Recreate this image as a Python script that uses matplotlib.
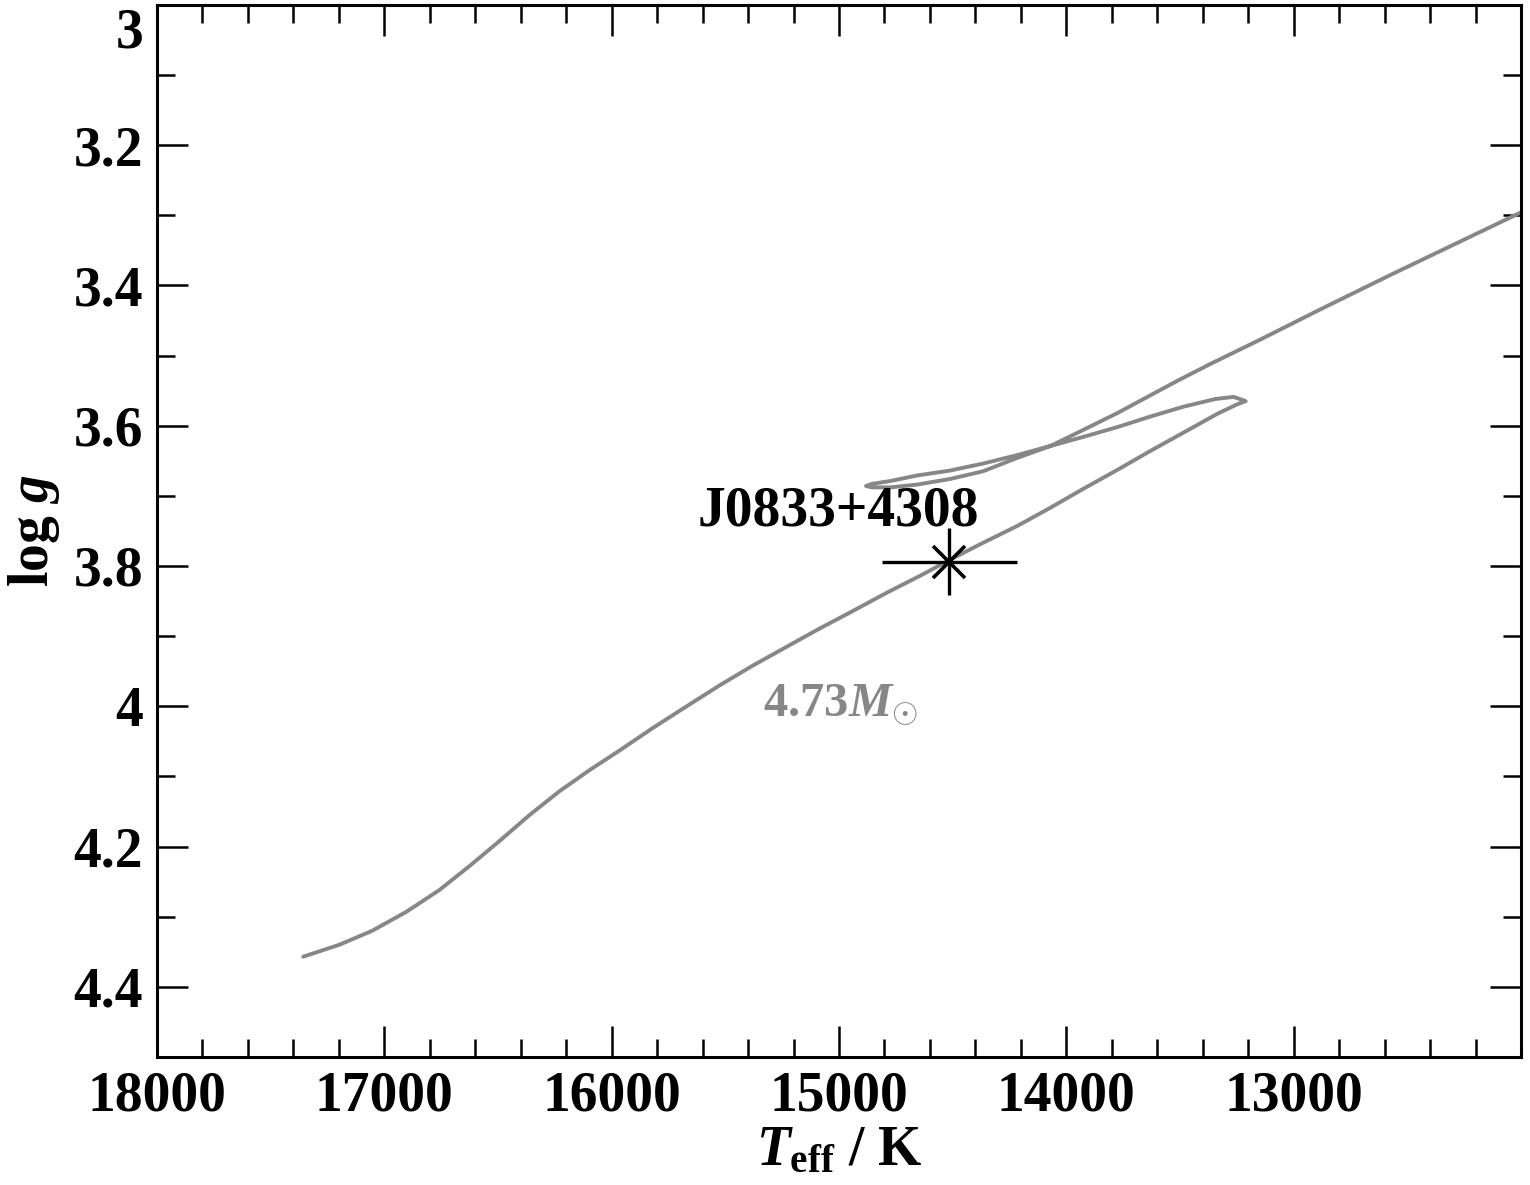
import matplotlib
matplotlib.use("Agg")
import matplotlib.pyplot as plt
import matplotlib.transforms as mtransforms
import numpy as np

plt.rcParams['font.family'] = ['Liberation Serif', 'DejaVu Serif']
plt.rcParams['font.weight'] = 'bold'
plt.rcParams['mathtext.fontset'] = 'custom'
plt.rcParams['mathtext.rm'] = 'Liberation Serif:bold'
plt.rcParams['mathtext.bf'] = 'Liberation Serif:bold'
plt.rcParams['mathtext.it'] = 'Liberation Serif:bold:italic'

# Evolutionary track 4.73 Msun (Teff, log g)
track_teff = [17357, 17198, 17053, 16903, 16758, 16626, 16493, 16361, 16229, 16097,
              15965, 15819, 15670, 15524, 15379, 15229, 15084, 14938, 14789, 14643,
              14511, 14366, 14216, 14070, 13925, 13775, 13630, 13485, 13335, 13251,
              13211, 13264, 13344, 13485, 13630, 13775, 13925, 14070, 14216, 14366,
              14511, 14656, 14775, 14855, 14881, 14855, 14775, 14656, 14511, 14366,
              14216, 14070, 13925, 13775, 13643, 13511, 13366, 13145, 12881, 12573,
              12264, 12000]
track_logg = [4.357, 4.340, 4.320, 4.293, 4.262, 4.228, 4.192, 4.155, 4.121, 4.091,
              4.063, 4.031, 4.000, 3.970, 3.942, 3.915, 3.889, 3.864, 3.838, 3.814,
              3.791, 3.767, 3.743, 3.717, 3.690, 3.663, 3.636, 3.610, 3.583, 3.570,
              3.565, 3.559, 3.562, 3.573, 3.587, 3.602, 3.616, 3.629, 3.642, 3.654,
              3.664, 3.671, 3.679, 3.683, 3.686, 3.688, 3.688, 3.684, 3.676, 3.665,
              3.646, 3.629, 3.606, 3.582, 3.559, 3.536, 3.512, 3.477, 3.434, 3.385,
              3.337, 3.296]

star_teff = [14515]
star_logg = [3.794]
star_teff_err = [297]
star_logg_err = [0.048]
star_name = "J0833+4308"
track_label = r"4.73$M_{\odot}$"

fig = plt.figure(figsize=(15.30, 11.85), dpi=100)
ax = fig.add_axes([0.1026, 0.108, 0.8915, 0.888])

ax.plot(track_teff, track_logg, color='#878787', lw=2.8,
        solid_joinstyle='round', solid_capstyle='round')
ax.errorbar(star_teff, star_logg, xerr=star_teff_err, yerr=star_logg_err,
            fmt='none', ecolor='black', elinewidth=2.4, capsize=0)
ax.plot(star_teff, star_logg, marker='x', ms=23, mew=2.6, color='black', ls='none')

ax.text(15004, 3.722, star_name, fontsize=40, fontweight='bold', ha='center', va='center')
ax.text(15335, 4.014, track_label, fontsize=35, color='#878787', ha='left', va='baseline')

ax.set_xlim(18000, 12000)
ax.set_ylim(4.5, 3.0)
ax.set_xticks([18000, 17000, 16000, 15000, 14000, 13000])
ax.set_xticks(np.arange(12000, 18001, 200), minor=True)
ax.set_yticks([3.0, 3.2, 3.4, 3.6, 3.8, 4.0, 4.2, 4.4])
ax.set_yticklabels(['3', '3.2', '3.4', '3.6', '3.8', '4', '4.2', '4.4'])
ax.set_yticks(np.arange(3.0, 4.501, 0.1), minor=True)

ax.tick_params(which='both', direction='in', top=True, right=True, width=1.8, labelsize=40)
ax.tick_params(which='major', length=22)
ax.tick_params(which='minor', length=13)
ax.tick_params(axis='x', pad=10)
ax.tick_params(axis='y', pad=10)
for lab in ax.get_xticklabels() + ax.get_yticklabels():
    lab.set_fontweight('bold')
for sp in ax.spines.values():
    sp.set_linewidth(2.2)

# shift the top "3" label down so it stays inside the figure
top_lab = ax.get_yticklabels()[0]
offset = mtransforms.ScaledTranslation(0, -0.23, fig.dpi_scale_trans)
top_lab.set_transform(top_lab.get_transform() + offset)

ax.set_xlabel(r"$T_{\rm eff}$ / K", fontsize=40, fontweight='bold', labelpad=2)
ax.set_ylabel(r"log $g$", fontsize=40, fontweight='bold', labelpad=8)

fig.savefig("out.png", dpi=100)
